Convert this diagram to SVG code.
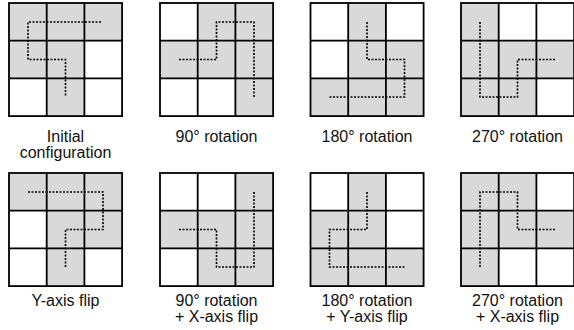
<svg xmlns="http://www.w3.org/2000/svg" width="574" height="330" viewBox="0 0 574 330">
<style>
.c{fill:#d9d9d9}
.g{fill:none;stroke:#000;stroke-width:1.8}
.p{fill:none;stroke:#000;stroke-width:1.6;stroke-dasharray:2,1.5}
.t{font-family:"Liberation Sans",Arial,sans-serif;font-size:16px;fill:#111;text-anchor:middle}
</style>
<defs>
<g id="grid">
<rect class="g" x="0" y="0" width="113.1" height="113.1"/>
<path class="g" d="M37.7,0V113.1M75.4,0V113.1M0,37.7H113.1M0,75.4H113.1"/>
</g>
</defs>
<g id="n1" transform="translate(9,3)">
<rect class="c" x="0" y="0" width="113.1" height="37.7"/>
<rect class="c" x="0" y="37.7" width="75.4" height="37.7"/>
<rect class="c" x="37.7" y="75.4" width="37.7" height="37.7"/>
<use href="#grid"/>
<path class="p" d="M92,19H19V56.5H56.5V94"/>
<text class="t" x="56.5" y="139">Initial</text>
<text class="t" x="56.5" y="155">configuration</text>
</g>
<g id="n2" transform="translate(160,3)">
<rect class="c" x="37.7" y="0" width="75.4" height="37.7"/>
<rect class="c" x="0" y="37.7" width="113.1" height="37.7"/>
<rect class="c" x="75.4" y="75.4" width="37.7" height="37.7"/>
<use href="#grid"/>
<path class="p" d="M19,56.5H56.5V19H94V94"/>
<text class="t" x="56.5" y="139">90° rotation</text>
</g>
<g id="n3" transform="translate(310.5,3)">
<rect class="c" x="37.7" y="0" width="37.7" height="37.7"/>
<rect class="c" x="37.7" y="37.7" width="75.4" height="37.7"/>
<rect class="c" x="0" y="75.4" width="113.1" height="37.7"/>
<use href="#grid"/>
<path class="p" d="M56.5,19V56.5H94V94H19"/>
<text class="t" x="56.5" y="139">180° rotation</text>
</g>
<g id="n4" transform="translate(461,3)">
<rect class="c" x="0" y="0" width="37.7" height="37.7"/>
<rect class="c" x="0" y="37.7" width="113.1" height="37.7"/>
<rect class="c" x="0" y="75.4" width="75.4" height="37.7"/>
<use href="#grid"/>
<path class="p" d="M19,19V94H56.5V56.5H94"/>
<text class="t" x="56.5" y="139">270° rotation</text>
</g>
<g id="n5" transform="translate(9,173)">
<rect class="c" x="0" y="0" width="113.1" height="37.7"/>
<rect class="c" x="37.7" y="37.7" width="75.4" height="37.7"/>
<rect class="c" x="37.7" y="75.4" width="37.7" height="37.7"/>
<use href="#grid"/>
<path class="p" d="M19,19H94V56.5H56.5V94"/>
<text class="t" x="56.5" y="133">Y-axis flip</text>
</g>
<g id="n6" transform="translate(160,173)">
<rect class="c" x="75.4" y="0" width="37.7" height="37.7"/>
<rect class="c" x="0" y="37.7" width="113.1" height="37.7"/>
<rect class="c" x="37.7" y="75.4" width="75.4" height="37.7"/>
<use href="#grid"/>
<path class="p" d="M19,56.5H56.5V94H94V18"/>
<text class="t" x="56.5" y="133">90° rotation</text>
<text class="t" x="56.5" y="149">+ X-axis flip</text>
</g>
<g id="n7" transform="translate(310.5,173)">
<rect class="c" x="37.7" y="0" width="37.7" height="37.7"/>
<rect class="c" x="0" y="37.7" width="75.4" height="37.7"/>
<rect class="c" x="0" y="75.4" width="113.1" height="37.7"/>
<use href="#grid"/>
<path class="p" d="M56.5,19V56.5H19V94H94"/>
<text class="t" x="56.5" y="133">180° rotation</text>
<text class="t" x="56.5" y="149">+ Y-axis flip</text>
</g>
<g id="n8" transform="translate(461,173)">
<rect class="c" x="0" y="0" width="75.4" height="37.7"/>
<rect class="c" x="0" y="37.7" width="113.1" height="37.7"/>
<rect class="c" x="0" y="75.4" width="37.7" height="37.7"/>
<use href="#grid"/>
<path class="p" d="M19,94V19H56.5V56.5H94"/>
<text class="t" x="56.5" y="133">270° rotation</text>
<text class="t" x="56.5" y="149">+ X-axis flip</text>
</g>
<g id="connectors"/>
</svg>
